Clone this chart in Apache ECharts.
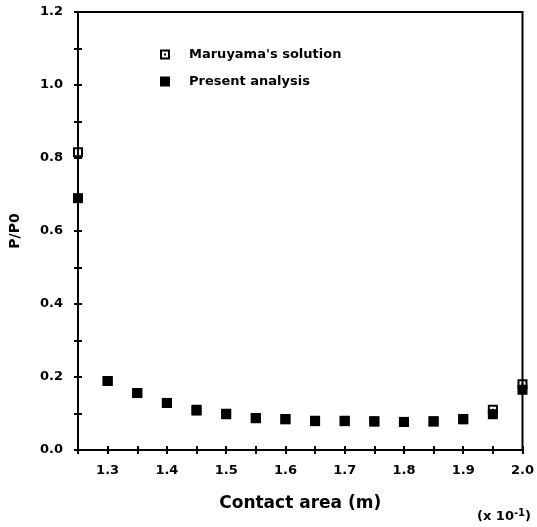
<!DOCTYPE html>
<html>
<head>
<meta charset="utf-8">
<script src="https://cdn.jsdelivr.net/npm/echarts@6/dist/echarts.min.js"></script>
<style>
  html, body { margin: 0; padding: 0; background: #fff; }
  #chart { width: 537px; height: 527px; }
</style>
</head>
<body>
<div id="chart"></div>
<script>
// Contact area values (units of 10^-1 m)
const contactArea = [1.25, 1.30, 1.35, 1.40, 1.45, 1.50, 1.55, 1.60, 1.65, 1.70, 1.75, 1.80, 1.85, 1.90, 1.95, 2.00];
// Normalised pressure P/P0
const maruyama = [0.816, 0.189, 0.156, 0.129, 0.110, 0.099, 0.088, 0.085, 0.080, 0.080, 0.079, 0.077, 0.079, 0.085, 0.110, 0.180];
const present  = [0.690, 0.189, 0.156, 0.129, 0.108, 0.098, 0.087, 0.084, 0.079, 0.079, 0.078, 0.077, 0.078, 0.084, 0.098, 0.165];
const seriesNames = ["Maruyama's solution", 'Present analysis'];

const FONT = 'DejaVu Sans';
const pairs = (ys) => contactArea.map((x, i) => [x, ys[i]]);

// hollow square with a small centre dot
const boxSymbol = 'path://M0,0H10V10H0Z M2,2V8H8V2Z M4,4H6V6H4Z';

// axes are shifted 4px inside the frame so that 8px outward ticks cross the frame line
const TICK_HALF = 4;

const chart = echarts.init(document.getElementById('chart'), null, { renderer: 'canvas' });

chart.setOption({
  animation: false,
  backgroundColor: '#fff',
  grid: {
    left: 78, right: 13, top: 12, bottom: 77,
    show: true, borderColor: '#000', borderWidth: 2, backgroundColor: 'transparent'
  },
  legend: {
    orient: 'vertical', left: 155, top: 43,
    itemWidth: 10, itemHeight: 10, itemGap: 14,
    textStyle: { fontFamily: FONT, fontWeight: 'bold', fontSize: 13, color: '#000', padding: [0, 0, 0, 14] },
    data: seriesNames
  },
  xAxis: {
    type: 'value', min: 1.25, max: 2.0, interval: 0.05,
    position: 'bottom', offset: -TICK_HALF,
    splitLine: { show: false },
    name: 'Contact area (m)', nameLocation: 'middle', nameGap: 49, nameMoveOverlap: false,
    nameTextStyle: { fontFamily: FONT, fontWeight: 'bold', fontSize: 17, color: '#000' },
    axisLine: { show: false },
    axisTick: { show: true, length: 2 * TICK_HALF, lineStyle: { color: '#000', width: 2 } },
    axisLabel: {
      margin: 18, fontFamily: FONT, fontWeight: 'bold', fontSize: 13, color: '#000',
      formatter: (v) => {
        const k = Math.round(v * 100);
        return (k % 10 === 0) ? (k / 100).toFixed(1) : '';
      }
    }
  },
  yAxis: {
    type: 'value', min: 0, max: 1.2, interval: 0.1,
    position: 'left', offset: -TICK_HALF,
    splitLine: { show: false },
    name: 'P/P0', nameLocation: 'middle', nameGap: 60, nameMoveOverlap: false,
    nameTextStyle: { fontFamily: FONT, fontWeight: 'bold', fontSize: 14, color: '#000' },
    axisLine: { show: false },
    axisTick: { show: true, length: 2 * TICK_HALF, lineStyle: { color: '#000', width: 2 } },
    axisLabel: {
      margin: 19, fontFamily: FONT, fontWeight: 'bold', fontSize: 13, color: '#000',
      formatter: (v) => {
        const k = Math.round(v * 10);
        return (k % 2 === 0) ? (k / 10).toFixed(1) : '';
      }
    }
  },
  graphic: [{
    type: 'text', left: 477, top: 508,
    style: {
      text: '(x 10{s|-1})',
      rich: { s: { fontSize: 10, fontWeight: 'bold', verticalAlign: 'top', padding: [0, 0, 7, 0], fontFamily: FONT } },
      fontFamily: FONT, fontWeight: 'bold', fontSize: 13, fill: '#000'
    }
  }],
  series: [
    {
      name: seriesNames[0], type: 'scatter',
      symbol: boxSymbol, symbolSize: 10, z: 3,
      itemStyle: { color: '#000', opacity: 1 },
      data: pairs(maruyama)
    },
    {
      name: seriesNames[1], type: 'scatter',
      symbol: 'rect', symbolSize: 10, z: 4,
      itemStyle: { color: '#000', opacity: 1 },
      data: pairs(present)
    }
  ]
});
</script>
</body>
</html>
